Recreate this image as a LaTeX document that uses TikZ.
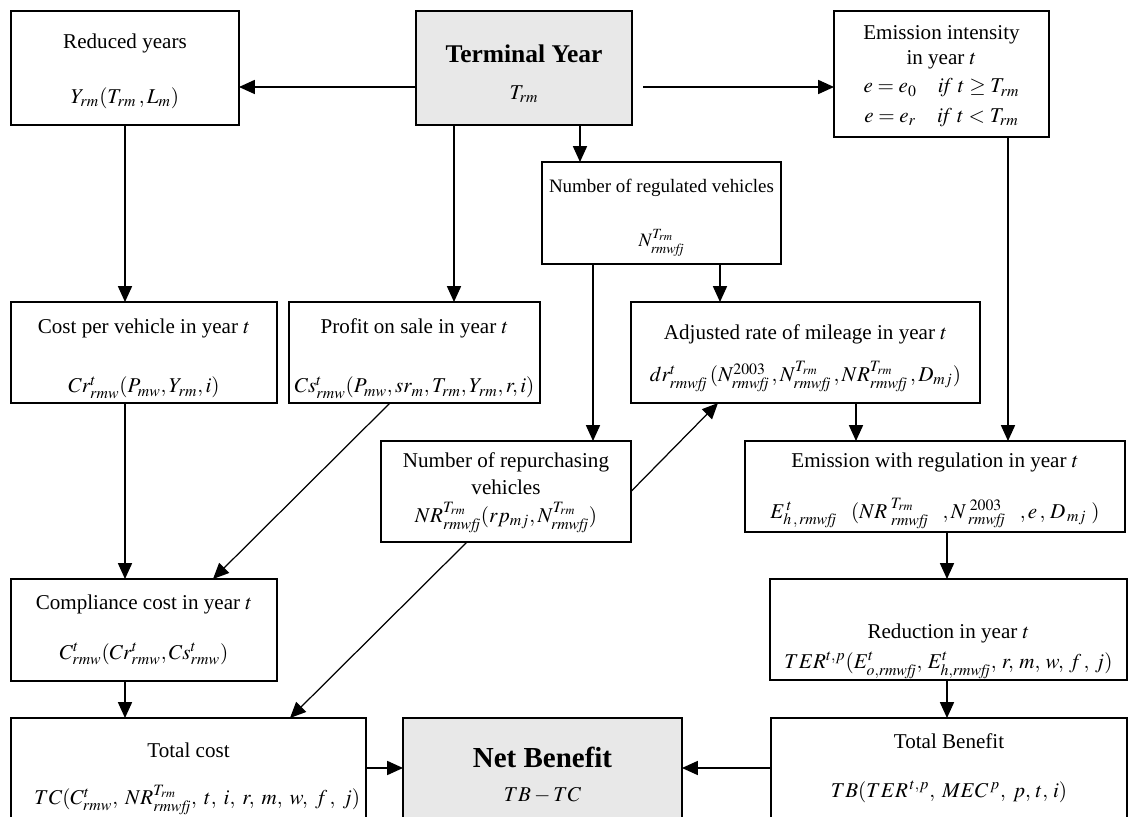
\documentclass[tikz,border=0pt]{standalone}
\usepackage{mathptmx}
\usepackage[no-math]{fontspec}
\setmainfont{Liberation Serif}
\usetikzlibrary{arrows.meta,calc}
\definecolor{boxgray}{RGB}{232,232,232}
\newcommand\mybox[7][]{\node[box,#1,minimum width={(#5-#3)*0.02cm},minimum height={(#6-#4)*0.02cm}] (#2) at ({(#3+#5)/2},{(#4+#6)/2}) {#7};}
\newcommand\dn[1]{\rule{0pt}{\dimexpr8.2pt+#1\dimexpr1.14pt\relax\relax}}
\newcommand\rw{\mathit{rmwfj}}
\begin{document}
\begin{tikzpicture}[x=0.02cm,y=-0.02cm,
 box/.style={draw,line width=0.7pt,rectangle,inner sep=0pt,outer sep=0pt,align=center,font=\fontsize{12}{14}\selectfont},
 gbox/.style={fill=boxgray},
 arr/.style={line width=0.7pt,-{Triangle[length=9pt,width=8pt]}}]
\useasboundingbox (0,0) rectangle (1130,817);
\clip (0,0) rectangle (1130,817);
% helper coordinates
\coordinate (y87) at (0,87);
\coordinate (y768) at (0,768);
\foreach \xx in {125,213,290,390,454,467,580,593,718,720,856,947,1008}{\coordinate (c\xx) at (\xx,0);}
% boxes
\mybox{red}{11}{11}{239}{125}{\dn{3.5}Reduced years\\[17pt]$Y_{rm}(T_{rm}\,,L_m)$}
\mybox[gbox]{term}{416}{11}{632}{125}{\rule{0pt}{16.7pt}{\fontsize{14.5}{16}\selectfont\bfseries Terminal Year}\\[7pt]$T_{rm}$}
\mybox{emi}{834}{11}{1049}{137}{\dn{2}Emission intensity\\[0.5pt]in year $t$\\[2pt]$e=e_0\quad \mathit{if}\ t\ge T_{rm}$\\[3pt]$e=e_r\quad \mathit{if}\ t<T_{rm}$}
\mybox[font=\fontsize{10.8}{13}\selectfont]{nreg}{542}{162}{781}{264}{\dn{4}Number of regulated vehicles\\[18pt]$N^{T_{rm}}_{\rw}$}
\mybox{cpv}{11}{302}{277}{403}{\dn{6}Cost per vehicle in year $t$\\[20pt]$Cr^{t}_{rmw}(P_{mw},Y_{rm},i)$}
\mybox{prof}{289}{302}{540}{403}{\dn{6}Profit on sale in year $t$\\[20pt]$Cs^{t}_{rmw}(P_{mw},sr_m,T_{rm},Y_{rm},r,i)$}
\mybox{adj}{631}{302}{980}{403}{\dn{6}Adjusted rate of mileage in year $t$\\[10pt]$dr^{t}_{\rw}\,(N^{2003}_{\rw}\,,N^{T_{rm}}_{\rw}\,,NR^{T_{rm}}_{\rw}\,,D_{mj})$}
\mybox{nr}{381}{441}{631}{542}{\dn{1.5}Number of repurchasing\\[1pt]vehicles\\[2pt]$NR^{T_{rm}}_{\rw}(rp_{mj},N^{T_{rm}}_{\rw})$}
\mybox{ereg}{745}{441}{1125}{532}{\dn{4}Emission with regulation in year $t$\\[15pt]$E^{\,t}_{h\,,\,\rw}\;\;\;(NR^{\;T_{rm}}_{\;\rw}\;\;\;,N^{\;2003}_{\;\rw}\;\;\;,e\,,\,D_{\,mj}\;)$}
\mybox{comp}{11}{579}{277}{681}{Compliance cost in year $t$\\[14pt]$C^{t}_{rmw}(Cr^{t}_{rmw},Cs^{t}_{rmw})$}
\mybox{redu}{770}{579}{1127}{680}{\dn{22}Reduction in year $t$\\[3pt]$TER^{t,p}(E^{t}_{o,\rw},\:E^{t}_{h,\rw},\:r,\:m,\:w,\:f\,,\:j)$}
\mybox{tc}{11}{718}{366}{832}{\dn{4}Total cost\\[13pt]\hspace*{10pt}$TC(C^{t}_{rmw},\;NR^{T_{rm}}_{\rw},\;t,\;i,\;r,\;m,\;w,\;f\,,\;j)$}
\mybox[gbox]{nb}{403}{718}{682}{832}{{\fontsize{16.5}{18}\selectfont\bfseries Net Benefit}\\[5pt]$TB-TC$}
\mybox{tb}{771}{718}{1127}{825}{Total Benefit\\[14pt]$TB(TER^{\,t,p},\;MEC^{\,p},\;p,\,t,\,i)$\rule[-7pt]{0pt}{7pt}}
% connectors
\draw[arr] (term.west |- y87) -- (red.east |- y87);
\draw[arr,shorten <=6.3pt] (term.east |- y87) -- (emi.west |- y87);
\draw[arr] (red.south -| c125) -- (cpv.north -| c125);
\draw[arr] (term.south -| c454) -- (prof.north -| c454);
\draw[arr] (term.south -| c580) -- (nreg.north -| c580);
\draw[arr] (nreg.south -| c593) -- (nr.north -| c593);
\draw[arr] (nreg.south -| c720) -- (adj.north -| c720);
\draw[arr] (emi.south -| c1008) -- (ereg.north -| c1008);
\draw[arr] (adj.south -| c856) -- (ereg.north -| c856);
\draw[arr] (nr.east) -- (adj.south -| c718);
\draw[arr] (prof.south -| c390) -- (comp.north -| c213);
\draw[arr] (nr.south -| c467) -- (tc.north -| c290);
\draw[arr] (cpv.south -| c125) -- (comp.north -| c125);
\draw[arr] (comp.south -| c125) -- (tc.north -| c125);
\draw[arr] (ereg.south -| c947) -- (redu.north -| c947);
\draw[arr] (redu.south -| c947) -- (tb.north -| c947);
\draw[arr] (tc.east |- y768) -- (nb.west |- y768);
\draw[arr] (tb.west |- y768) -- (nb.east |- y768);
\end{tikzpicture}
\end{document}
